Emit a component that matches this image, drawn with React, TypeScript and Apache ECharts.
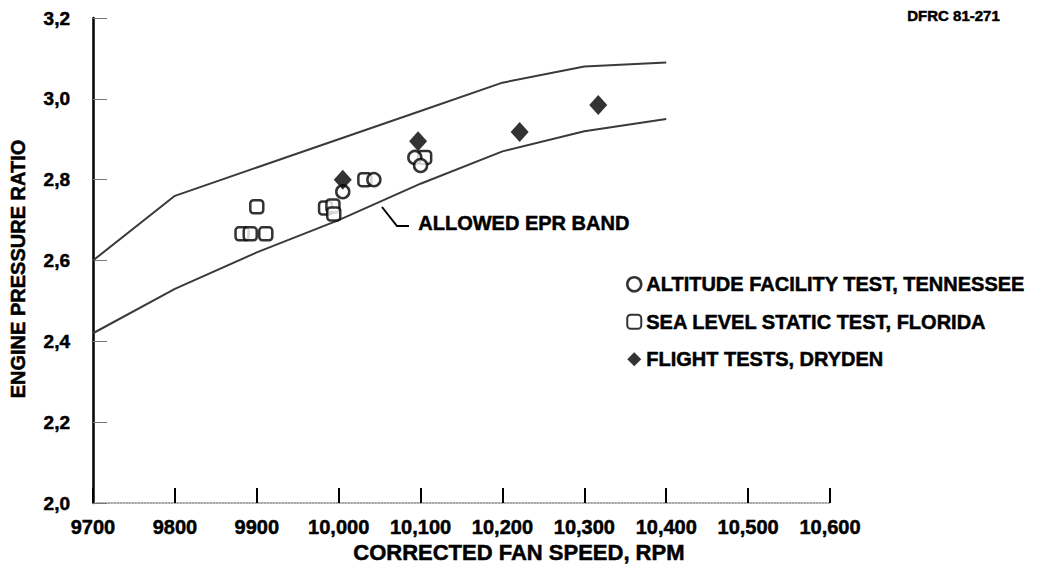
import React, { useEffect, useRef } from "react";
import * as echarts from "echarts";

// ---- data ----
const bandRpm = [9700, 9800, 9900, 10000, 10100, 10200, 10300, 10400];
const upperBand = [2.6, 2.76, 2.83, 2.9, 2.97, 3.04, 3.08, 3.09];
const lowerBand = [2.42, 2.53, 2.62, 2.7, 2.79, 2.87, 2.92, 2.95];

const altitudeRpm = [10005, 10043, 10093, 10100];
const altitudeEpr = [2.77, 2.8, 2.855, 2.835];

const seaLevelRpm = [9882, 9892, 9911, 9900, 9984, 9993, 9994, 10032, 10105];
const seaLevelEpr = [2.666, 2.666, 2.666, 2.733, 2.73, 2.735, 2.715, 2.8, 2.855];

const flightRpm = [10005, 10097, 10221, 10317];
const flightEpr = [2.8, 2.895, 2.918, 2.985];

const xMin = 9700;
const xMax = 10600;
const xStep = 100;
const yMin = 2.0;
const yMax = 3.2;
const yStep = 0.2;

const seriesNames = [
  "ALTITUDE FACILITY TEST, TENNESSEE",
  "SEA LEVEL STATIC TEST, FLORIDA",
  "FLIGHT TESTS, DRYDEN",
];

const FONT = "'Liberation Sans', Arial, Helvetica, sans-serif";

const pairs = (xs: number[], ys: number[]) => xs.map((x, i) => [x, ys[i]]);

const fmtRpm = (v: number) =>
  v >= 10000 ? `${Math.floor(v / 1000)},${String(v % 1000).padStart(3, "0")}` : String(v);

export default function App() {
  const ref = useRef<HTMLDivElement>(null);

  useEffect(() => {
    if (!ref.current) return;
    const chart = echarts.init(ref.current, undefined, { renderer: "svg" });
    const bandStyle = { color: "#3a3a3a", width: 2 };
    const openStyle = { color: "#fff", borderColor: "#000", borderWidth: 2.5 };
    const heavy = { textBorderColor: "#000", textBorderWidth: 0.5 };

    chart.setOption({
      animation: false,
      backgroundColor: "#fff",
      grid: { left: 93, right: 208, top: 18, bottom: 68, containLabel: false },
      xAxis: {
        type: "value",
        min: xMin,
        max: xMax,
        interval: xStep,
        axisLine: { show: true, onZero: false, lineStyle: { color: "#8a8a8a", width: 1.5, type: "dotted" } },
        axisTick: { show: true, inside: true, length: 15, lineStyle: { color: "#000", width: 2 } },
        axisLabel: {
          formatter: (v: number) => fmtRpm(v),
          color: "#000",
          fontFamily: FONT,
          fontWeight: "bold",
          fontSize: 20,
          margin: 14,
          ...heavy,
        },
        splitLine: { show: false },
      },
      yAxis: {
        type: "value",
        min: yMin,
        max: yMax,
        interval: yStep,
        axisLine: { show: true, onZero: false, lineStyle: { color: "#000", width: 2.5 } },
        axisTick: { show: true, inside: true, length: 14, lineStyle: { color: "#777", width: 1 } },
        axisLabel: {
          formatter: (v: number) => v.toFixed(1).replace(".", ","),
          color: "#000",
          fontFamily: FONT,
          fontWeight: "bold",
          fontSize: 19,
          margin: 23,
          ...heavy,
        },
        splitLine: { show: false },
      },
      legend: {
        orient: "vertical",
        left: 621,
        top: 269,
        itemWidth: 14,
        itemHeight: 14,
        itemGap: 17,
        textStyle: { color: "#000", fontFamily: FONT, fontWeight: "bold", fontSize: 20, ...heavy },
        data: [
          { name: seriesNames[0], icon: "circle", itemStyle: openStyle },
          { name: seriesNames[1], icon: "roundRect", itemStyle: { ...openStyle, borderWidth: 2 } },
          { name: seriesNames[2], icon: "diamond", itemStyle: { color: "#000" } },
        ],
      },
      series: [
        {
          name: "upper band",
          type: "line",
          data: pairs(bandRpm, upperBand),
          symbol: "none",
          lineStyle: bandStyle,
          silent: true,
        },
        {
          name: "lower band",
          type: "line",
          data: pairs(bandRpm, lowerBand),
          symbol: "none",
          lineStyle: bandStyle,
          silent: true,
        },
        {
          name: seriesNames[1],
          type: "scatter",
          data: pairs(seaLevelRpm, seaLevelEpr),
          symbol: "roundRect",
          symbolSize: 13,
          itemStyle: openStyle,
          z: 3,
        },
        {
          name: seriesNames[0],
          type: "scatter",
          data: pairs(altitudeRpm, altitudeEpr),
          symbol: "circle",
          symbolSize: 13,
          itemStyle: openStyle,
          z: 4,
        },
        {
          name: seriesNames[2],
          type: "scatter",
          data: pairs(flightRpm, flightEpr),
          symbol: "diamond",
          symbolSize: [18, 20],
          itemStyle: { color: "#000" },
          z: 5,
        },
      ],
      graphic: [
        {
          type: "polyline",
          shape: { points: [[382, 207], [397, 226], [409, 226]] },
          style: { stroke: "#000", lineWidth: 2, fill: "none" },
        },
        {
          type: "text",
          left: 418,
          top: 213,
          style: { text: "ALLOWED EPR BAND", fill: "#000", font: `bold 20px ${FONT}`, stroke: "#000", lineWidth: 0.5 },
        },
        {
          type: "text",
          left: 907,
          top: 8,
          style: { text: "DFRC 81-271", fill: "#000", font: `bold 15px ${FONT}`, stroke: "#000", lineWidth: 0.5 },
        },
        {
          type: "text",
          left: 353,
          top: 541,
          style: { text: "CORRECTED FAN SPEED, RPM", fill: "#000", font: `bold 22px ${FONT}`, stroke: "#000", lineWidth: 0.5 },
        },
        {
          type: "text",
          x: 18,
          y: 269,
          rotation: Math.PI / 2,
          style: {
            text: "ENGINE PRESSURE RATIO",
            fill: "#000",
            font: `bold 20px ${FONT}`,
            align: "center",
            verticalAlign: "middle",
            stroke: "#000",
            lineWidth: 0.5,
          },
        },
      ],
    });

    return () => chart.dispose();
  }, []);

  return (
    <div
      ref={ref}
      style={{ position: "fixed", left: 0, top: 0, width: 1038, height: 571, background: "#fff" }}
    />
  );
}
